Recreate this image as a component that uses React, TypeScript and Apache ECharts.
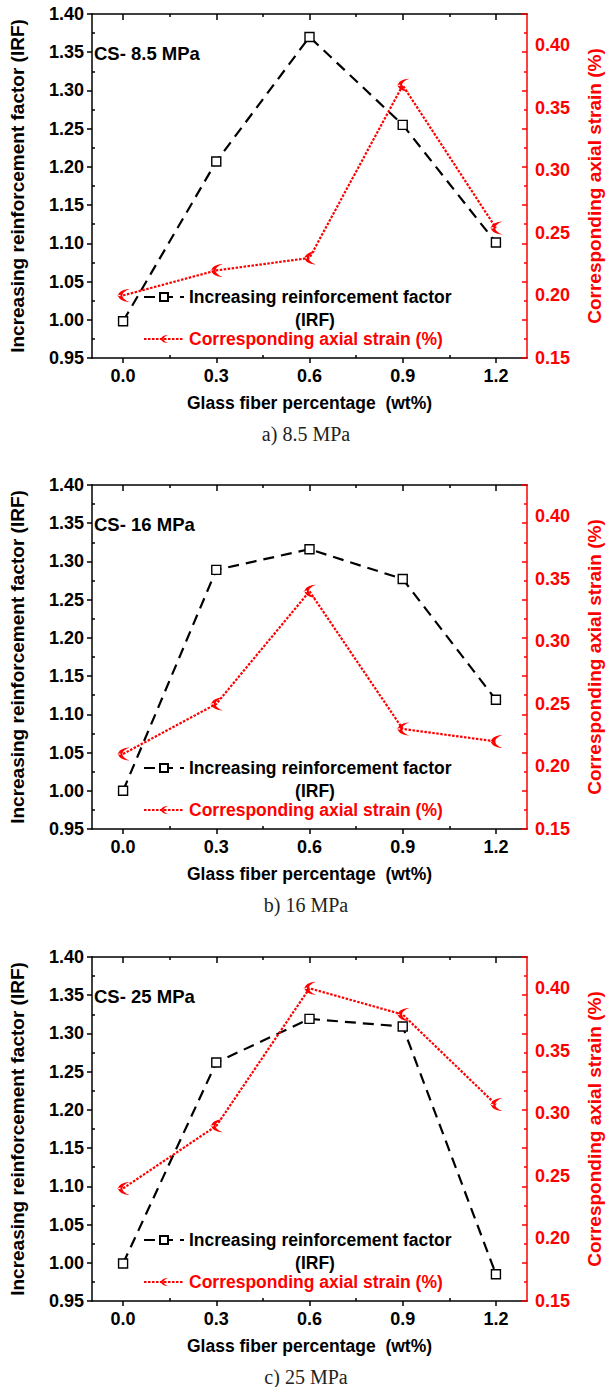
import React, { useEffect, useRef } from 'react';
import * as echarts from 'echarts';

// ---------- data ----------
const fiberPct = [0, 0.3, 0.6, 0.9, 1.2];

const irf85 = [0.998, 1.207, 1.37, 1.255, 1.101];
const strain85 = [0.2, 0.22, 0.23, 0.368, 0.254];

const irf16 = [1.0, 1.289, 1.316, 1.277, 1.119];
const strain16 = [0.21, 0.25, 0.34, 0.23, 0.22];

const irf25 = [0.999, 1.262, 1.319, 1.309, 0.985];
const strain25 = [0.24, 0.29, 0.4, 0.379, 0.307];

const xTickLabels = [0, 0.3, 0.6, 0.9, 1.2];
const xMinorTicks = [0.15, 0.45, 0.75, 1.05];
const rightTickLabels = [0.15, 0.2, 0.25, 0.3, 0.35, 0.4];

const annotations = ['CS- 8.5 MPa', 'CS- 16 MPa', 'CS- 25 MPa'];
const captions = ['a) 8.5 MPa', 'b) 16 MPa', 'c) 25 MPa'];

const irfName = 'Increasing reinforcement factor';
const strainName = 'Corresponding axial strain (%)';

// ---------- style ----------
const FONT = 'Liberation Sans';
const RED = '#ff0000';
const BLACK = '#000000';
const STRAIN_SYMBOL =
  'path://M20,2 C8,2 3,7 2,10 C3,13 8,18 20,18 C13,16 9,13 9,10 C9,7 13,4 20,2 Z M0,10 L6,9 L6,11 Z';

function buildOption() {
  const tops = [14, 485, 957];
  const H = 344;
  const sets = [
    [irf85, strain85],
    [irf16, strain16],
    [irf25, strain25],
  ];
  const grid: any[] = [];
  const xAxis: any[] = [];
  const yAxis: any[] = [];
  const series: any[] = [];
  const legend: any[] = [];
  const graphic: any[] = [];

  const boldText = (size: number, color: string) => ({
    fontFamily: FONT,
    fontWeight: 'bold',
    fontSize: size,
    color,
  });

  tops.forEach((top, i) => {
    grid.push({ left: 80, width: 462, top, height: H });
    const xb = {
      gridIndex: i,
      type: 'value',
      min: -0.1,
      max: 1.3,
      splitLine: { show: false },
    };
    const blackLine = { color: BLACK, width: 1.5 };
    // bottom major
    xAxis.push({
      ...xb,
      position: 'bottom',
      axisLine: { show: true, onZero: false, lineStyle: blackLine },
      axisTick: { show: true, inside: false, length: 5, customValues: xTickLabels, lineStyle: blackLine },
      axisLabel: {
        show: true,
        customValues: xTickLabels,
        formatter: (v: number) => v.toFixed(1),
        margin: 9,
        ...boldText(18, BLACK),
      },
      name: 'Glass fiber percentage  (wt%)',
      nameLocation: 'middle',
      nameGap: 36,
      nameTextStyle: boldText(17.5, BLACK),
    });
    // bottom minor
    xAxis.push({
      ...xb,
      position: 'bottom',
      axisLine: { show: false, onZero: false },
      axisTick: { show: true, inside: true, length: 3, customValues: xMinorTicks, lineStyle: blackLine },
      axisLabel: { show: false },
    });
    // top major
    xAxis.push({
      ...xb,
      position: 'top',
      axisLine: { show: true, onZero: false, lineStyle: blackLine },
      axisTick: { show: true, inside: true, length: 6, customValues: xTickLabels, lineStyle: blackLine },
      axisLabel: { show: false },
    });
    // top minor
    xAxis.push({
      ...xb,
      position: 'top',
      axisLine: { show: false, onZero: false },
      axisTick: { show: true, inside: true, length: 3, customValues: xMinorTicks, lineStyle: blackLine },
      axisLabel: { show: false },
    });

    const yl = {
      gridIndex: i,
      type: 'value',
      min: 0.95,
      max: 1.4,
      interval: 0.05,
      splitLine: { show: false },
    };
    // left major with labels
    yAxis.push({
      ...yl,
      position: 'left',
      axisLine: { show: true, onZero: false, lineStyle: blackLine },
      axisTick: { show: true, inside: false, length: 5, lineStyle: blackLine },
      axisLabel: {
        show: true,
        margin: 8,
        formatter: (v: number) => v.toFixed(2),
        ...boldText(18, BLACK),
      },
      name: 'Increasing reinforcement factor (IRF)',
      nameLocation: 'middle',
      nameGap: 65,
      nameRotate: 90,
      nameTextStyle: boldText(19, BLACK),
    });
    // left minor
    yAxis.push({
      ...yl,
      position: 'left',
      axisLine: { show: false, onZero: false },
      axisTick: { show: false, inside: true },
      minorTick: { show: true, splitNumber: 2, length: 3, lineStyle: blackLine },
      axisLabel: { show: false },
    });
    // right strain axis (labels)
    yAxis.push({
      gridIndex: i,
      type: 'value',
      min: 0.15,
      max: 0.425,
      interval: 0.05,
      position: 'right',
      splitLine: { show: false },
      axisLine: { show: true, onZero: false, lineStyle: { color: RED, width: 1.5 } },
      axisTick: { show: false },
      axisLabel: {
        show: true,
        customValues: rightTickLabels,
        margin: 8,
        formatter: (v: number) => v.toFixed(2),
        ...boldText(18, RED),
      },
      name: strainName,
      nameLocation: 'middle',
      nameGap: 58,
      nameRotate: 90,
      nameTextStyle: boldText(19, RED),
    });
    // right mirror ticks (red)
    yAxis.push({
      ...yl,
      position: 'right',
      axisLine: { show: false, onZero: false },
      axisTick: { show: true, inside: true, length: 5, lineStyle: { color: RED, width: 1.5 } },
      minorTick: { show: true, splitNumber: 2, length: 3, lineStyle: { color: RED, width: 1.5 } },
      axisLabel: { show: false },
    });

    const [irf, strain] = sets[i];
    series.push({
      type: 'line',
      name: irfName,
      xAxisIndex: i * 4,
      yAxisIndex: i * 4,
      data: fiberPct.map((x, k) => [x, irf[k]]),
      symbol: 'rect',
      symbolSize: 9,
      itemStyle: { color: '#ffffff', borderColor: BLACK, borderWidth: 1.4 },
      lineStyle: { color: BLACK, width: 2.2, type: [11, 7] },
      z: 3,
    });
    series.push({
      type: 'line',
      name: strainName,
      xAxisIndex: i * 4,
      yAxisIndex: i * 4 + 2,
      data: fiberPct.map((x, k) => [x, strain[k]]),
      symbol: STRAIN_SYMBOL,
      symbolSize: 13,
      itemStyle: { color: RED },
      lineStyle: { color: RED, width: 2.2, type: [2.5, 1.5] },
      z: 4,
    });

    legend.push({
      orient: 'vertical',
      left: 143,
      top: top + H - 70,
      itemWidth: 40,
      itemHeight: 10,
      itemGap: 24,
      padding: 0,
      selectedMode: false,
      data: [
        { name: irfName, textStyle: { color: BLACK } },
        { name: strainName, textStyle: { color: RED } },
      ],
      textStyle: { fontFamily: FONT, fontWeight: 'bold', fontSize: 17.5 },
    });

    graphic.push({
      type: 'text',
      x: 315,
      y: top + H - 38,
      style: {
        text: '(IRF)',
        fontFamily: FONT,
        fontWeight: 'bold',
        fontSize: 17.5,
        fill: BLACK,
        align: 'center',
        verticalAlign: 'middle',
      },
    });
    graphic.push({
      type: 'text',
      x: 94,
      y: top + 39,
      style: {
        text: annotations[i],
        fontFamily: FONT,
        fontWeight: 'bold',
        fontSize: 18.5,
        fill: BLACK,
        align: 'left',
        verticalAlign: 'middle',
      },
    });
    graphic.push({
      type: 'text',
      x: 306,
      y: top + H + 76,
      style: {
        text: captions[i],
        fontFamily: 'Liberation Serif',
        fontSize: 20,
        fill: '#222222',
        align: 'center',
        verticalAlign: 'middle',
      },
    });
  });

  return {
    animation: false,
    backgroundColor: '#ffffff',
    textStyle: { fontFamily: FONT },
    grid,
    xAxis,
    yAxis,
    series,
    legend,
    graphic,
  };
}

export default function App() {
  const ref = useRef<HTMLDivElement>(null);
  useEffect(() => {
    document.body.style.margin = '0';
    if (!ref.current) return;
    const chart = echarts.init(ref.current, undefined, { renderer: 'svg' });
    chart.setOption(buildOption() as any);
    return () => chart.dispose();
  }, []);
  return <div ref={ref} style={{ width: 612, height: 1387 }} />;
}
